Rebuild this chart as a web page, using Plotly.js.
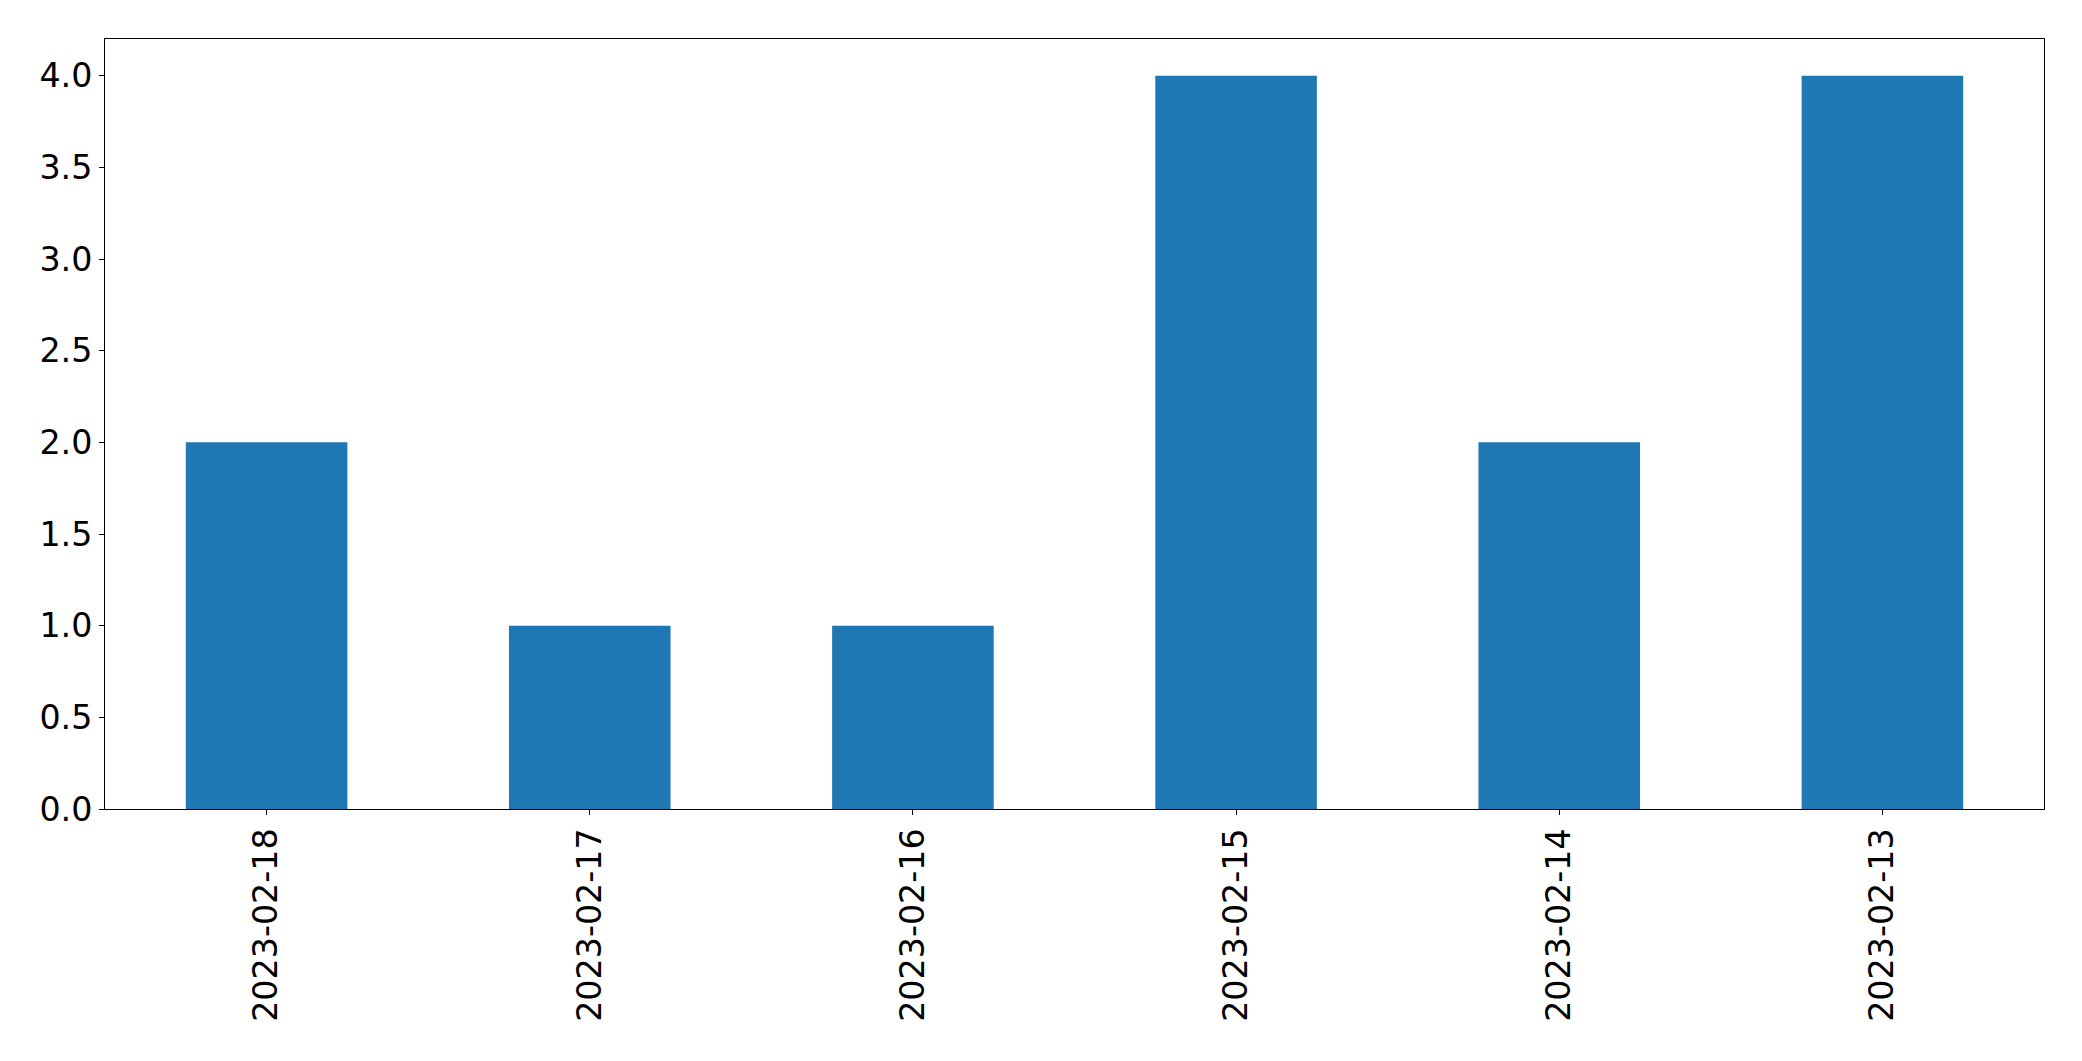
<!DOCTYPE html>
<html>
<head>
<meta charset="utf-8">
<script src="https://cdn.plot.ly/plotly-3.0.1.min.js"></script>
<style>
  html, body { margin: 0; padding: 0; background: #fff; }
  #chart { width: 2082px; height: 1061px; }
</style>
</head>
<body>
<div id="chart"></div>
<script>
const categories = ["2023-02-18", "2023-02-17", "2023-02-16", "2023-02-15", "2023-02-14", "2023-02-13"];
const counts = [2, 1, 1, 4, 2, 4];
const yTickVals = [0, 0.5, 1, 1.5, 2, 2.5, 3, 3.5, 4];
const yTickText = ["0.0", "0.5", "1.0", "1.5", "2.0", "2.5", "3.0", "3.5", "4.0"];

const trace = {
  type: "bar",
  x: categories,
  y: counts,
  width: 0.5,
  marker: { color: "#1f77b4", line: { width: 0 } },
  hoverinfo: "x+y"
};

const axisFont = { family: "DejaVu Sans", size: 33.3, color: "#000" };

const layout = {
  width: 2082,
  height: 1061,
  margin: { l: 105, r: 38, t: 39, b: 252, pad: 0 },
  paper_bgcolor: "#fff",
  plot_bgcolor: "#fff",
  showlegend: false,
  bargap: 0.5,
  xaxis: {
    type: "category",
    range: [-0.5, 5.5],
    tickangle: -90,
    tickfont: axisFont,
    ticks: "outside",
    ticklen: 5,
    tickwidth: 1,
    tickcolor: "#000",
    showline: true,
    linecolor: "#000",
    linewidth: 1,
    mirror: true,
    showgrid: false,
    zeroline: false,
    automargin: false
  },
  yaxis: {
    range: [0, 4.2],
    tickmode: "array",
    tickvals: yTickVals,
    ticktext: yTickText,
    tickfont: axisFont,
    ticks: "outside",
    ticklen: 5,
    tickwidth: 1,
    tickcolor: "#000",
    showline: true,
    linecolor: "#000",
    linewidth: 1,
    mirror: true,
    showgrid: false,
    zeroline: false,
    automargin: false
  }
};

Plotly.newPlot("chart", [trace], layout, { displayModeBar: false, staticPlot: true });
</script>
</body>
</html>
